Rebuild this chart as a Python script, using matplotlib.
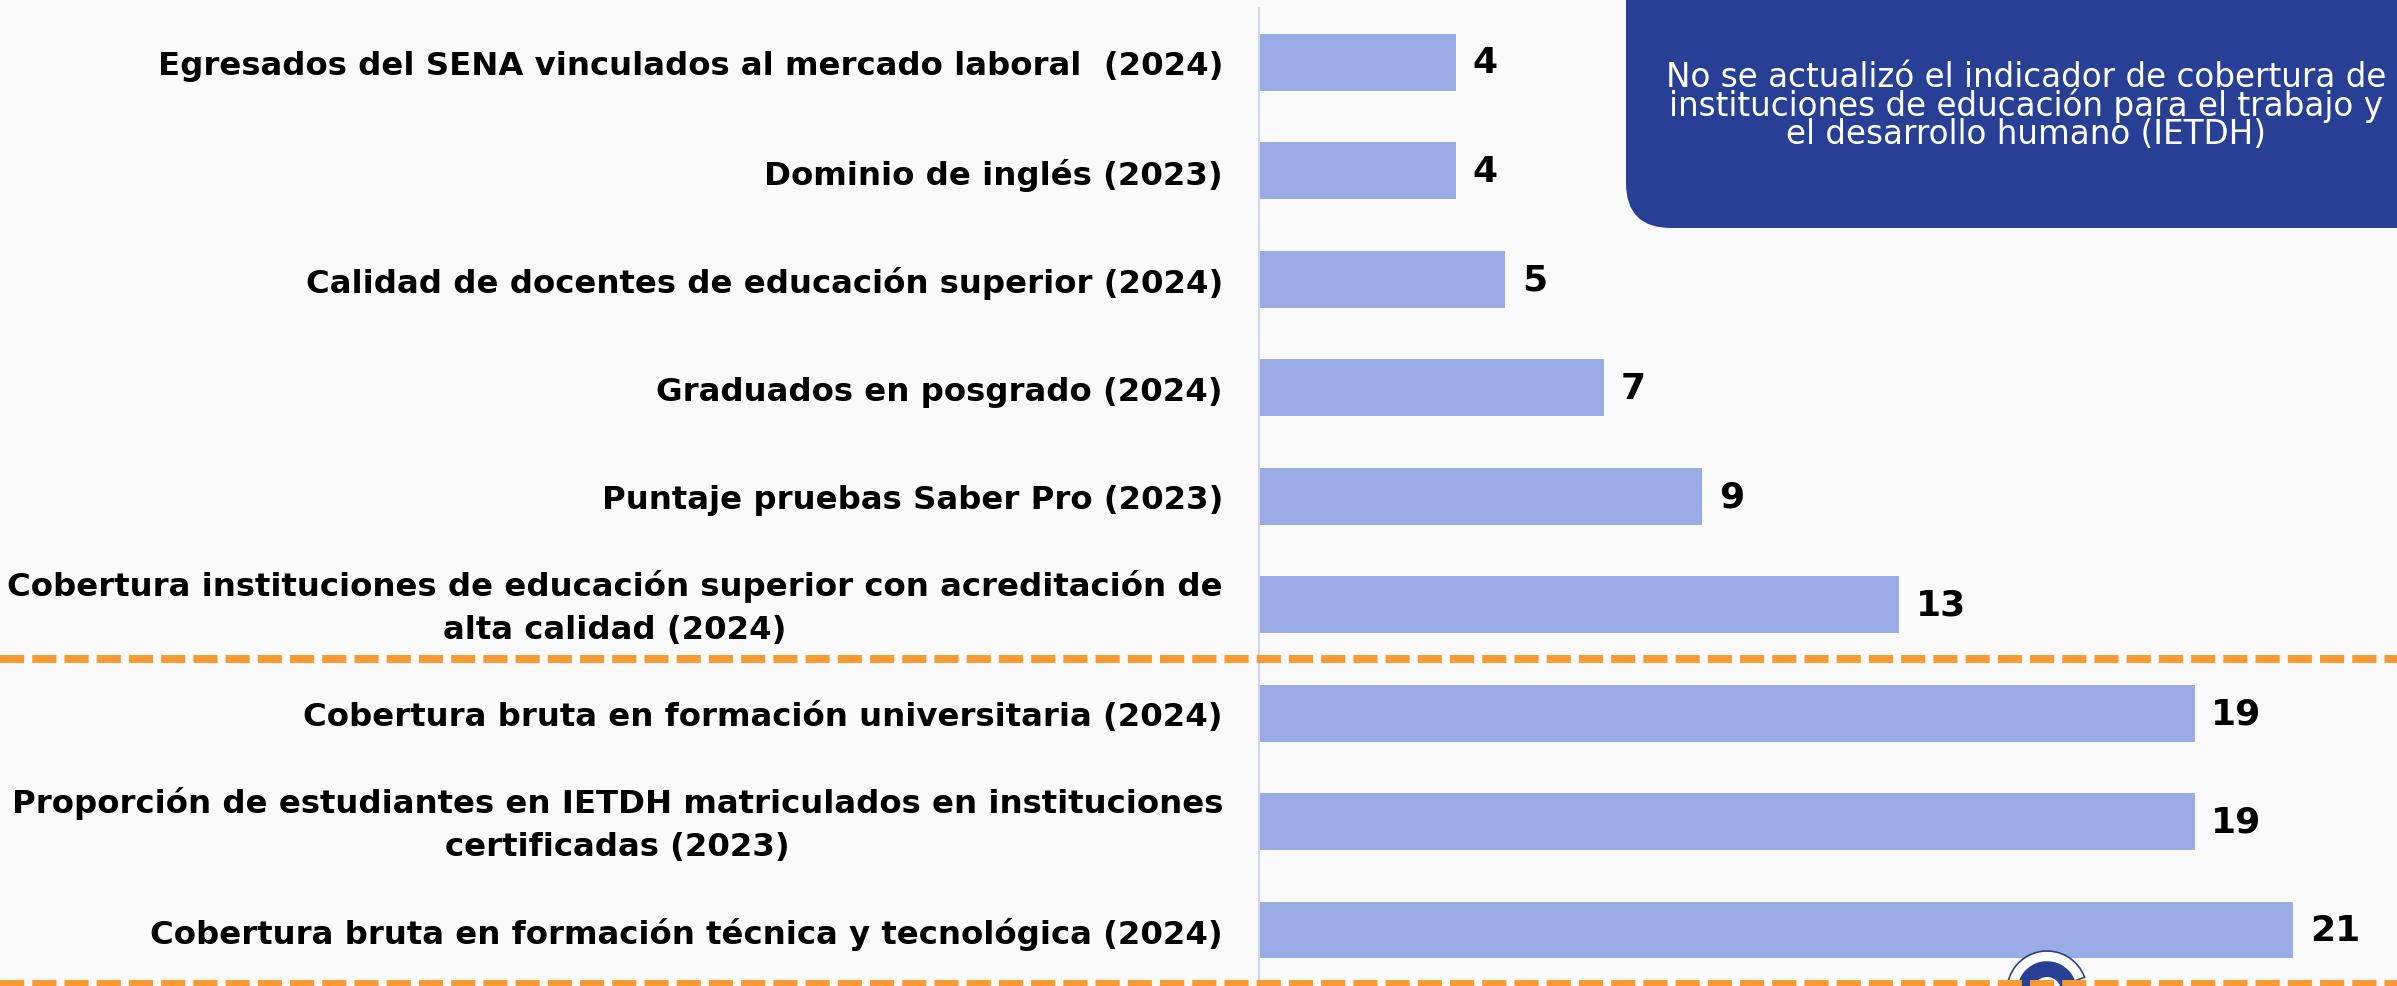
import matplotlib
matplotlib.use("Agg")
import matplotlib.pyplot as plt
import matplotlib.transforms as mtransforms
from matplotlib.lines import Line2D
from matplotlib.patches import FancyBboxPatch, Wedge

# Indicadores de educacion superior y formacion para el trabajo (posicion)
categories = [
    "Egresados del SENA vinculados al mercado laboral  (2024)",
    "Dominio de inglés (2023)",
    "Calidad de docentes de educación superior (2024)",
    "Graduados en posgrado (2024)",
    "Puntaje pruebas Saber Pro (2023)",
    "Cobertura instituciones de educación superior con acreditación de\nalta calidad (2024)",
    "Cobertura bruta en formación universitaria (2024)",
    "Proporción de estudiantes en IETDH matriculados en instituciones\ncertificadas (2023)",
    "Cobertura bruta en formación técnica y tecnológica (2024)",
]
values = [4, 4, 5, 7, 9, 13, 19, 19, 21]
separators = [5.5, 8.5]
note = ("No se actualizó el indicador de cobertura de\n"
        "instituciones de educación para el trabajo y\n"
        "el desarrollo humano (IETDH)")

BG = "#FAFAFA"
BAR = "#9AACE5"
ORANGE = "#F99B35"
NAVY = "#283F96"
FONT = "DejaVu Sans"

W, H = 2397, 987
fig = plt.figure(figsize=(W / 100, H / 100), dpi=100, facecolor=BG)
ax = fig.add_axes([1259 / W, 0, (W - 1259) / W, 978 / H])
ax.set_facecolor("none")

ypos = list(range(len(categories)))
ax.barh(ypos, values, height=0.525, color=BAR, zorder=2)
ax.set_xlim(0, (W - 1259) / 49.25)
ax.set_ylim(8.516, -0.498)

for y, v in zip(ypos, values):
    ax.annotate(str(v), (v, y), xytext=(12, 0), textcoords="offset points",
                ha="left", va="center", fontsize=26, fontweight="bold",
                family=FONT, color="black")

ax.set_yticks(ypos)
ax.set_yticklabels(categories, fontsize=23.3, fontweight="bold", family=FONT)
ax.tick_params(axis="y", length=0, pad=26)
ax.tick_params(axis="x", bottom=False, labelbottom=False)

# etiquetas de dos lineas: centradas y un poco mas arriba
lift = mtransforms.ScaledTranslation(0, 0.07, fig.dpi_scale_trans)
for lbl in ax.get_yticklabels():
    lbl.set_multialignment("center")
    lbl.set_linespacing(1.5)
    if "\n" in lbl.get_text():
        lbl.set_transform(lbl.get_transform() + lift)

for side in ["top", "right", "bottom"]:
    ax.spines[side].set_visible(False)
ax.spines["left"].set_color("#D0D4F5")
ax.spines["left"].set_linewidth(1.5)

# lineas punteadas naranjas que separan los grupos
tr = mtransforms.blended_transform_factory(fig.transFigure, ax.transData)
for y in separators:
    fig.add_artist(Line2D([0, 1], [y, y], transform=tr, color=ORANGE,
                          linewidth=5.8, dashes=(3.0, 1.0), zorder=5,
                          clip_on=False))

# recuadro con la nota
px = mtransforms.IdentityTransform()
box = FancyBboxPatch((1626, H - 229), 900, 300,
                     boxstyle="round,pad=0,rounding_size=45",
                     transform=px, facecolor=NAVY, edgecolor="none", zorder=3)
fig.add_artist(box)
fig.text(2026 / W, 1 - 106 / H, note, ha="center", va="center",
         multialignment="center", color="white", fontsize=23.5,
         family=FONT, linespacing=0.82, zorder=4)

# logo parcialmente visible abajo
cx, cy = 2047, H - 992
fig.add_artist(Wedge((cx, cy), 40, 20, 180, width=11, transform=px,
                     facecolor="white", edgecolor=NAVY, linewidth=1.2,
                     zorder=3))
fig.add_artist(Wedge((cx, cy), 29, 0, 180, width=15, transform=px,
                     facecolor=NAVY, edgecolor="none", zorder=3))

fig.savefig("out.png", dpi=100, facecolor=BG)
